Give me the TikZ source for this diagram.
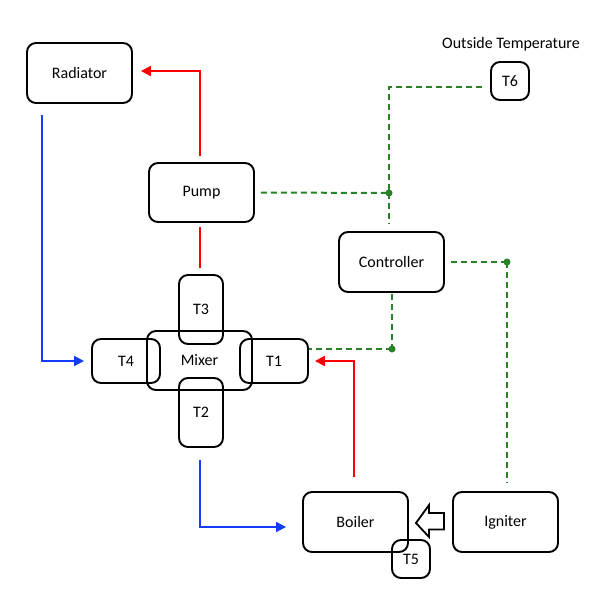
\documentclass[tikz,border=0pt]{standalone}
\usepackage{fontspec}
\setmainfont{Carlito}
\usetikzlibrary{arrows.meta,calc}
\definecolor{redl}{RGB}{255,0,0}
\definecolor{bluel}{RGB}{20,60,255}
\definecolor{greenl}{RGB}{40,130,40}
\begin{document}
\begin{tikzpicture}[x=1pt,y=-1pt,
  box/.style={draw=black,line width=1.9pt,rounded corners=9pt,inner sep=0pt,font=\fontsize{16}{19}\selectfont},
  bigbox/.style={box,minimum width=105pt,minimum height=60pt},
  redline/.style={draw=redl,line width=2pt},
  blueline/.style={draw=bluel,line width=2pt},
  ctrlline/.style={draw=greenl,line width=2pt,dash pattern=on 6pt off 4pt},
  tip/.style={-{Triangle[length=10pt,width=10pt]}},
  jdot/.style={fill=greenl,circle,inner sep=0pt,minimum size=7pt}
]
\useasboundingbox (0,0) rectangle (598,598);
\node[bigbox] (rad) at (79.5,73) {Radiator};
\node[bigbox,minimum height=59pt] (pump) at (201.5,192.5) {Pump};
\node[bigbox] (ctrl) at (391.5,262) {Controller};
\node[bigbox] (boiler) at (355.5,522) {Boiler};
\node[bigbox] (ign) at (505.5,522) {Igniter};
\node[bigbox,minimum height=59pt] (mixer) at (199.5,360.5) {Mixer};
\node[box,minimum width=44pt,minimum height=69pt] (T3) at (201,309.5) {T3};
\node[box,minimum width=44pt,minimum height=69pt] (T2) at (201,412.5) {T2};
\node[box,minimum width=68pt,minimum height=44pt] (T4) at (126,361) {T4};
\node[box,minimum width=68pt,minimum height=44pt] (T1) at (274,361) {T1};
\node[box,minimum width=38pt,minimum height=38pt] (T6) at (510,81) {T6};
\node[box,minimum width=38pt,minimum height=38pt] (T5) at (411,559) {T5};
\node[font=\fontsize{16}{19}\selectfont] (outside) at (511,44) {Outside Temperature};
% pipes
\draw[redline,tip] ([yshift=6]pump.north -| 200,0) |- ([xshift=8,yshift=2]rad.east);
\draw[blueline,tip] ([xshift=16,yshift=-11]rad.south west) |- ([xshift=-7]T4.west);
\draw[redline] ([yshift=-4]pump.south -| 200,0) -- ([yshift=6]T3.north -| 200,0);
\draw[blueline,tip] ([yshift=-12]T2.south -| 200,0) |- ([xshift=-16,yshift=-5]boiler.west);
\draw[redline,tip] ([yshift=14]boiler.north -| 354,0) |- ([xshift=6]T1.east);
% control lines
\coordinate (j1) at (389,193);
\coordinate (j2) at (507,262);
\coordinate (j3) at (392,349);
\draw[ctrlline] ([xshift=-8,yshift=-6]T6.west) -| (j1);
\draw[ctrlline] ([xshift=6]pump.east) -- (j1);
\draw[ctrlline] (j1) -- ([yshift=7]j1 |- ctrl.north);
\draw[ctrlline] ([xshift=6]ctrl.east) -- (j2);
\draw[ctrlline] (j2) -- ([yshift=9]j2 |- ign.north);
\draw[ctrlline] ([yshift=-1]ctrl.south -| j3) -- (j3);
\draw[ctrlline] (j3) -- (j3 -| T1.east);
\node[jdot] at (j1) {};
\node[jdot] at (j2) {};
\node[jdot] at (j3) {};
% igniter -> boiler hollow arrow
\draw[line width=1.8pt,line join=miter,fill=white]
  ([xshift=-8,yshift=-7.5]ign.west) -- ([xshift=-23,yshift=-7.5]ign.west)
  -- ([xshift=-23,yshift=-15]ign.west) -- ([xshift=7,yshift=-1]boiler.east)
  -- ([xshift=-23,yshift=17]ign.west) -- ([xshift=-23,yshift=9]ign.west)
  -- ([xshift=-8,yshift=9]ign.west) -- cycle;
\end{tikzpicture}
\end{document}
